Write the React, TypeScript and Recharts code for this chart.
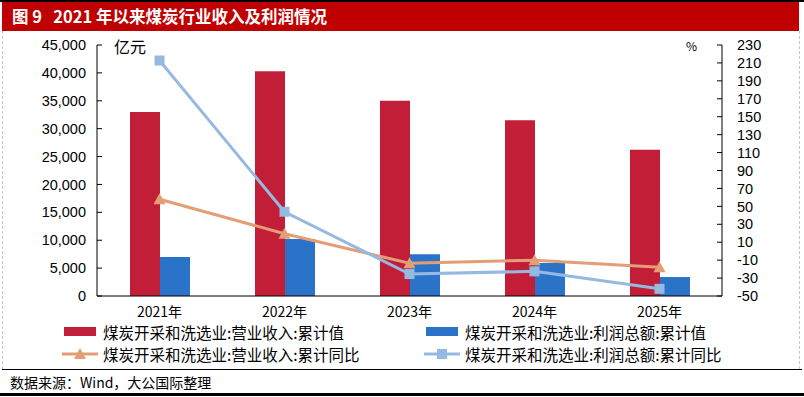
import React from "react";
import { ComposedChart, Bar, Line, XAxis, YAxis } from "recharts";

const years = ["2021年", "2022年", "2023年", "2024年", "2025年"];
const revenue = [33000, 40300, 35000, 31500, 26200];
const profit = [7000, 10200, 7500, 5900, 3400];
const revenueYoy = [58, 19.5, -13.5, -10, -18];
const profitYoy = [212.7, 44, -25.5, -22.5, -42];

const leftTicks = [0, 5000, 10000, 15000, 20000, 25000, 30000, 35000, 40000, 45000];
const rightTicks = [-50, -30, -10, 10, 30, 50, 70, 90, 110, 130, 150, 170, 190, 210, 230];

const seriesNames = [
  "煤炭开采和洗选业:营业收入:累计值",
  "煤炭开采和洗选业:利润总额:累计值",
  "煤炭开采和洗选业:营业收入:累计同比",
  "煤炭开采和洗选业:利润总额:累计同比",
];

const RED = "#C21E38";
const BLUE = "#2B72C9";
const ORANGE = "#E39E76";
const LIGHT = "#95B9E0";
const FONT = "'Noto Sans CJK SC', 'Noto Sans', sans-serif";
const NUM = { fontSize: 14.5, fill: "#000", fontFamily: "'Liberation Sans', Arial, sans-serif" };

const data = years.map((y, i) => ({
  year: y,
  revenue: revenue[i],
  profit: profit[i],
  revenueYoy: revenueYoy[i],
  profitYoy: profitYoy[i],
}));

function Triangle(props: any) {
  const { cx, cy } = props;
  if (cx == null || cy == null) return <g />;
  return <path d={`M${cx},${cy - 6} L${cx + 6},${cy + 5} L${cx - 6},${cy + 5} Z`} fill={ORANGE} />;
}

function Square(props: any) {
  const { cx, cy } = props;
  if (cx == null || cy == null) return <g />;
  return <rect x={cx - 5} y={cy - 5} width={10} height={10} fill={LIGHT} />;
}

function LegendItem({ kind, color, label }: { kind: string; color: string; label: string }) {
  return (
    <div style={{ display: "flex", alignItems: "center", height: 22 }}>
      <svg width={38} height={14} style={{ marginRight: 3 }}>
        {kind === "bar" && <rect x={2} y={2} width={32} height={9} fill={color} />}
        {kind !== "bar" && <line x1={0} x2={36} y1={7} y2={7} stroke={color} strokeWidth={3} />}
        {kind === "tri" && <path d="M18,1 L24,12 L12,12 Z" fill={color} />}
        {kind === "sq" && <rect x={13} y={2} width={10} height={10} fill={color} />}
      </svg>
      <span style={{ fontSize: 15.5, fontFamily: FONT, whiteSpace: "nowrap", color: "#000", lineHeight: "18px" }}>{label}</span>
    </div>
  );
}

export default function App() {
  return (
    <div style={{ position: "absolute", left: 0, top: 0, width: 804, height: 397, background: "#fff", overflow: "hidden" }}>
      <div style={{ position: "absolute", left: 0, top: 0, width: 804, height: 2, background: "#000" }} />
      <div
        style={{
          position: "absolute", left: 2, top: 2, width: 797, height: 29, background: "#C00000",
          color: "#fff", fontFamily: FONT, fontWeight: 700, fontSize: 16.5, lineHeight: "29px",
          whiteSpace: "pre", paddingLeft: 10, boxSizing: "border-box",
        }}
      >
        {"图 9   2021 年以来煤炭行业收入及利润情况"}
      </div>
      <div style={{ position: "absolute", left: 2, top: 31, width: 0, height: 338, borderLeft: "1px dashed #c8c8c8" }} />
      <div style={{ position: "absolute", left: 799, top: 31, width: 0, height: 338, borderLeft: "1px dashed #c8c8c8" }} />

      <div style={{ position: "absolute", left: 0, top: 0 }}>
        <ComposedChart width={804} height={330} data={data} margin={{ top: 45, right: 0, left: 0, bottom: 0 }} barGap={0}>
          <XAxis
            xAxisId="sep" type="number" domain={[0, 5]} ticks={[1, 2, 3, 4]} height={0}
            axisLine={false} tick={false} tickSize={-6} tickLine={{ stroke: "#000" }} allowDataOverflow
          />
          <XAxis
            dataKey="year" height={34} interval={0} tickLine={false}
            tick={{ fontSize: 14, fill: "#000", fontFamily: FONT }}
            axisLine={{ stroke: "#000" }} tickMargin={5}
          />
          <YAxis
            yAxisId="left" width={97} domain={[0, 45000]} ticks={leftTicks} interval={0}
            tick={NUM} tickSize={-5} tickMargin={16} axisLine={{ stroke: "#000" }} tickLine={{ stroke: "#000" }}
            tickFormatter={(v: number) => v.toLocaleString("en-US")}
          />
          <YAxis
            yAxisId="right" orientation="right" width={82} domain={[-50, 230]} ticks={rightTicks} interval={0}
            tick={NUM} tickSize={-5} tickMargin={20} axisLine={{ stroke: "#000" }} tickLine={{ stroke: "#000" }}
          />
          <Bar yAxisId="left" dataKey="revenue" name={seriesNames[0]} fill={RED} barSize={30} isAnimationActive={false} />
          <Bar yAxisId="left" dataKey="profit" name={seriesNames[1]} fill={BLUE} barSize={30} isAnimationActive={false} />
          <Line
            yAxisId="right" dataKey="revenueYoy" name={seriesNames[2]} stroke={ORANGE} strokeWidth={3}
            dot={<Triangle />} activeDot={false} isAnimationActive={false}
          />
          <Line
            yAxisId="right" dataKey="profitYoy" name={seriesNames[3]} stroke={LIGHT} strokeWidth={3}
            dot={<Square />} activeDot={false} isAnimationActive={false}
          />
        </ComposedChart>
      </div>

      <div style={{ position: "absolute", left: 114, top: 36, fontSize: 16, fontFamily: FONT, lineHeight: "20px" }}>亿元</div>
      <div style={{ position: "absolute", left: 686, top: 38, fontSize: 12, fontFamily: FONT, lineHeight: "16px" }}>%</div>

      <div style={{ position: "absolute", left: 62, top: 321 }}>
        <LegendItem kind="bar" color={RED} label={seriesNames[0]} />
        <LegendItem kind="tri" color={ORANGE} label={seriesNames[2]} />
      </div>
      <div style={{ position: "absolute", left: 424, top: 321 }}>
        <LegendItem kind="bar" color={BLUE} label={seriesNames[1]} />
        <LegendItem kind="sq" color={LIGHT} label={seriesNames[3]} />
      </div>

      <div style={{ position: "absolute", left: 2, top: 369, width: 800, height: 1, background: "#000" }} />
      <div
        style={{
          position: "absolute", left: 10, top: 372, fontSize: 14, fontFamily: FONT, whiteSpace: "pre",
          lineHeight: "20px",
        }}
      >
        数据来源：Wind，大公国际整理
      </div>
      <div style={{ position: "absolute", left: 0, top: 393, width: 804, height: 3, background: "#000" }} />
    </div>
  );
}
